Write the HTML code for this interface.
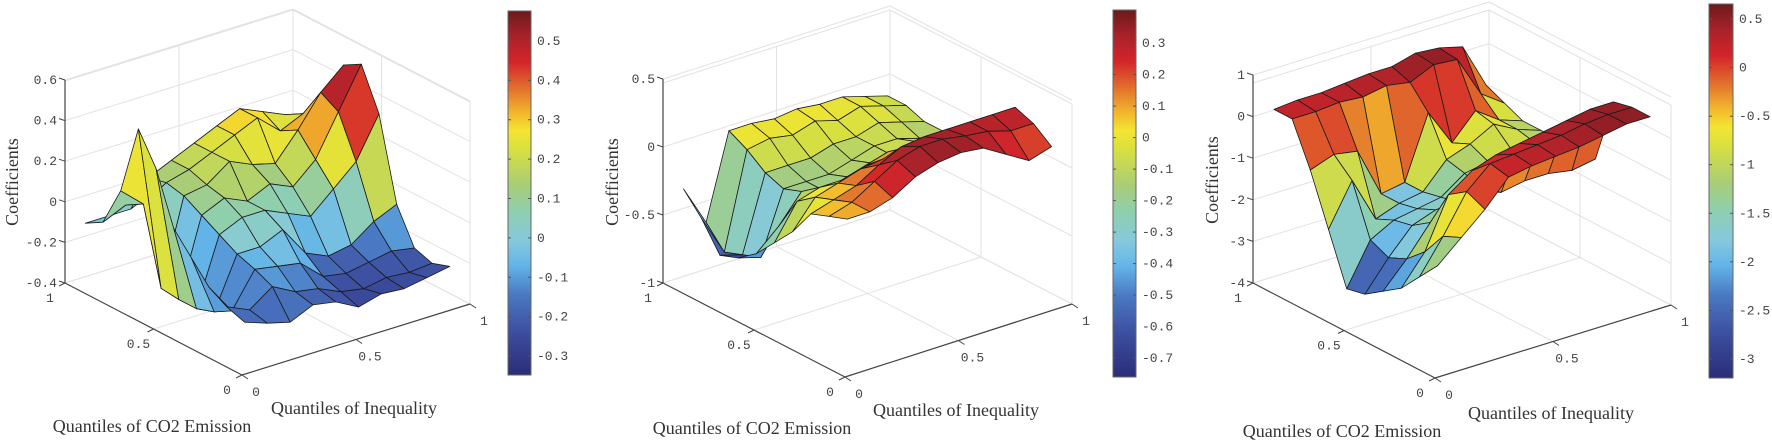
<!DOCTYPE html>
<html><head><meta charset="utf-8">
<style>
html,body{margin:0;padding:0;background:#fff;}
svg{display:block;}
.tk{font-family:"Liberation Mono",monospace;font-size:13px;fill:#444;}
.ttl{font-family:"Liberation Serif",serif;font-size:18px;fill:#333;}
</style></head>
<body>
<svg id="fig" width="1772" height="445" viewBox="0 0 1772 445" xmlns="http://www.w3.org/2000/svg">
<defs id="defs"></defs>
</svg>
<script>
// ---- data ----
const quantiles = [0.05,0.15,0.25,0.35,0.45,0.55,0.65,0.75,0.85,0.95];
const axisTicks = [0, 0.5, 1];
const axisTickLabels = ['0','0.5','1'];
// rows: CO2 quantile (front -> back), cols: inequality quantile
const coef1 = [
 [-0.18,-0.22,-0.25,-0.20,-0.22,-0.28,-0.25,-0.26,-0.24,-0.22],
 [-0.15,-0.20,-0.12,-0.18,-0.20,-0.25,-0.27,-0.25,-0.26,-0.25],
 [-0.10,-0.25,-0.08,-0.10,-0.12,-0.22,-0.24,-0.22,-0.20,-0.22],
 [ 0.00,-0.30,-0.05,-0.05, 0.00,-0.15,-0.20,-0.18,-0.10,-0.05],
 [ 0.10,-0.33, 0.00, 0.05, 0.05, 0.00,-0.05, 0.05, 0.15, 0.35],
 [ 0.35,-0.33, 0.05, 0.10, 0.05, 0.10, 0.05, 0.15, 0.35, 0.55],
 [ 0.50,-0.32, 0.10, 0.12, 0.20, 0.15, 0.12, 0.25, 0.40, 0.50],
 [ 0.15, 0.05, 0.12, 0.15, 0.20, 0.25, 0.30, 0.20, 0.25, 0.20],
 [-0.05, 0.00, 0.10, 0.15, 0.20, 0.25, 0.30, 0.25, 0.20, 0.10],
 [-0.10,-0.10,-0.10,-0.05, 0.00, 0.05, 0.10, 0.15, 0.10, 0.00]
];
const coef2 = [
 [ 0.10, 0.10, 0.15, 0.25, 0.30, 0.32, 0.30, 0.20, 0.10, 0.15],
 [ 0.05, 0.10, 0.20, 0.30, 0.35, 0.35, 0.32, 0.30, 0.25, 0.25],
 [ 0.00, 0.05, 0.10, 0.20, 0.28, 0.30, 0.30, 0.30, 0.30, 0.30],
 [-0.20, 0.00, 0.05, 0.10, 0.12, 0.15, 0.12, 0.10, 0.05, 0.00],
 [-0.35,-0.10,-0.05,-0.05, 0.00, 0.05, 0.00,-0.05,-0.10,-0.10],
 [-0.50,-0.35,-0.15,-0.20,-0.15,-0.10,-0.10,-0.05,-0.10,-0.15],
 [-0.60,-0.65,-0.20,-0.20,-0.20,-0.15,-0.10,-0.10,-0.15,-0.15],
 [-0.65,-0.70,-0.15,-0.15,-0.15,-0.10,-0.10,-0.05,-0.10,-0.15],
 [-0.45,-0.75,-0.05,-0.02,-0.05, 0.00,-0.05, 0.00,-0.05,-0.10],
 [-0.30,-0.60, 0.02, 0.02, 0.00, 0.02, 0.00, 0.00,-0.05,-0.10]
];
const coef3 = [
 [-1.5,-1.0,-0.5, 0.1, 0.2, 0.25,0.3, 0.4, 0.5, 0.5],
 [-2.0,-1.2,-0.3, 0.2, 0.25,0.3, 0.35,0.45,0.5, 0.5],
 [-2.5,-1.8,-0.6,-0.2, 0.0, 0.1, 0.2, 0.3, 0.4, 0.4],
 [-2.8,-2.2,-1.5,-1.2,-1.0,-1.3,-1.2,-1.2,-1.3,-1.2],
 [-3.1,-2.4,-1.8,-1.6,-1.6,-1.5,-1.5,-1.4,-1.4,-1.4],
 [-3.2,-2.2,-1.9,-1.8,-1.7,-1.3,-1.2,-1.1,-1.1,-1.2],
 [-2.0,-1.0,-2.1,-1.9,-1.8,-1.2,-1.0,-0.7,-1.0,-1.2],
 [-0.8,-0.6,-0.7,-1.9,-1.8,-0.3,-1.2,-0.6,-1.0,-1.2],
 [ 0.2, 0.2, 0.25,0.2, 0.3, 0.2, 0.45,0.4,-0.6,-1.0],
 [ 0.2, 0.25,0.25,0.3, 0.35,0.35,0.5, 0.45,0.3,-0.8]
];
const zTicks1 = [-0.4,-0.2,0,0.2,0.4,0.6];
const zTickLabels1 = ['-0.4','-0.2','0','0.2','0.4','0.6'];
const zTicks2 = [-1,-0.5,0,0.5];
const zTickLabels2 = ['-1','-0.5','0','0.5'];
const zTicks3 = [-4,-3,-2,-1,0,1];
const zTickLabels3 = ['-4','-3','-2','-1','0','1'];
const cbTicks1 = [-0.3,-0.2,-0.1,0,0.1,0.2,0.3,0.4,0.5];
const cbTickLabels1 = ['-0.3','-0.2','-0.1','0','0.1','0.2','0.3','0.4','0.5'];
const cbTicks2 = [-0.7,-0.6,-0.5,-0.4,-0.3,-0.2,-0.1,0,0.1,0.2,0.3];
const cbTickLabels2 = ['-0.7','-0.6','-0.5','-0.4','-0.3','-0.2','-0.1','0','0.1','0.2','0.3'];
const cbTicks3 = [-3,-2.5,-2,-1.5,-1,-0.5,0,0.5];
const cbTickLabels3 = ['-3','-2.5','-2','-1.5','-1','-0.5','0','0.5'];
const cbRange1 = [-0.348, 0.576];
const cbRange2 = [-0.76, 0.405];
const cbRange3 = [-3.196, 0.655];

// ---- colormap ----
const cmap = [[0,'#2a2d78'],[0.12,'#3d4fa0'],[0.22,'#4a78c2'],[0.30,'#62b4e8'],[0.37,'#86c9dc'],
 [0.45,'#8fcfae'],[0.52,'#a8cd78'],[0.62,'#d8e040'],[0.67,'#f4e531'],[0.72,'#f2b72e'],
 [0.78,'#e3782c'],[0.86,'#d3252a'],[0.93,'#a8222a'],[1,'#6b1a1c']];
function hex(h){return [1,3,5].map(i=>parseInt(h.substr(i,2),16));}
function colorAt(t){
  t=Math.max(0,Math.min(1,t));
  for(let i=1;i<cmap.length;i++){
    if(t<=cmap[i][0]){
      const a=cmap[i-1],b=cmap[i],f=(t-a[0])/(b[0]-a[0]);
      const ca=hex(a[1]),cb=hex(b[1]);
      return 'rgb('+ca.map((c,k)=>Math.round(c+(cb[k]-c)*f)).join(',')+')';
    }
  }
  return cmap[cmap.length-1][1];
}

const NS='http://www.w3.org/2000/svg';
const svg=document.getElementById('fig');
const defs=document.getElementById('defs');
function mk(tag,attrs,parent){const e=document.createElementNS(NS,tag);for(const k in attrs)e.setAttribute(k,attrs[k]);(parent||svg).appendChild(e);return e;}

const grad=mk('linearGradient',{id:'cbgrad',x1:0,y1:1,x2:0,y2:0},defs);
cmap.forEach(s=>mk('stop',{offset:s[0],'stop-color':s[1]},grad));

const panels=[
 {O:[242,375],L:[65,283],R:[470,304],zmin:-0.4,zmax:0.6,ppu:203,data:coef1,zt:zTicks1,ztl:zTickLabels1,
  cb:{x:508,w:23,y0:11,y1:375},cbr:cbRange1,cbt:cbTicks1,cbtl:cbTickLabels1,
  coefPos:[12,182],ineqPos:[354,414],co2Pos:[152,432]},
 {O:[845,377],L:[663,283],R:[1072,304],zmin:-1,zmax:0.5,ppu:136,data:coef2,zt:zTicks2,ztl:zTickLabels2,
  cb:{x:1113,w:23,y0:10,y1:377},cbr:cbRange2,cbt:cbTicks2,cbtl:cbTickLabels2,
  coefPos:[612,182],ineqPos:[956,416],co2Pos:[752,434]},
 {O:[1435,378],L:[1253,283],R:[1671,305],zmin:-4,zmax:1,ppu:41.6,data:coef3,zt:zTicks3,ztl:zTickLabels3,
  cb:{x:1709,w:24,y0:4,y1:378},cbr:cbRange3,cbt:cbTicks3,cbtl:cbTickLabels3,
  coefPos:[1212,180],ineqPos:[1551,419],co2Pos:[1342,437]}
];

panels.forEach((p,pi)=>{
  const g=mk('g',{});
  
  
  const U=[p.R[0]-p.O[0],p.R[1]-p.O[1]], V=[p.L[0]-p.O[0],p.L[1]-p.O[1]];
  function P(u,v,z){return [p.O[0]+u*U[0]+v*V[0], p.O[1]+u*U[1]+v*V[1]-(z-p.zmin)*p.ppu];}
  function line(a,b,stroke,w,parent,name){const l=mk('line',{x1:a[0].toFixed(1),y1:a[1].toFixed(1),x2:b[0].toFixed(1),y2:b[1].toFixed(1),stroke:stroke,'stroke-width':w},parent);return l;}
  const gridC='#e2e2e2';
  const zTopBox=p.zmax+((P(1,1,p.zmax)[1])-10)/p.ppu;
  const gg=mk('g',{},g);
  
  
  p.zt.forEach(z=>{
    line(P(0,1,z),P(1,1,z),gridC,1,gg,'grid-line');
    line(P(1,1,z),P(1,0,z),gridC,1,gg,'grid-line');
  });
  [0.5].forEach(t=>{
    line(P(t,1,p.zmin),P(t,1,zTopBox),gridC,1,gg,'grid-line');
    line(P(1,t,p.zmin),P(1,t,zTopBox),gridC,1,gg,'grid-line');
    line(P(t,0,p.zmin),P(t,1,p.zmin),gridC,1,gg,'grid-line');
    line(P(0,t,p.zmin),P(1,t,p.zmin),gridC,1,gg,'grid-line');
  });
  line(P(1,1,p.zmin),P(1,1,zTopBox),gridC,1,gg,'grid-line');
  line(P(1,0,p.zmin),P(1,0,zTopBox),gridC,1,gg,'grid-line');
  line(P(0,1,p.zmin),P(1,1,p.zmin),gridC,1,gg,'grid-line');
  line(P(1,1,p.zmin),P(1,0,p.zmin),gridC,1,gg,'grid-line');
  line(P(0,1,zTopBox),P(1,1,zTopBox),gridC,1,gg,'grid-line');
  line(P(1,1,zTopBox),P(1,0,zTopBox),gridC,1,gg,'grid-line');

  const ax='#444';
  line(p.O,p.L,ax,1.2,g,'co2-axis');
  line(p.O,p.R,ax,1.2,g,'inequality-axis');
  line(P(0,1,p.zmin),P(0,1,p.zmax),ax,1.2,g,'z-axis');
  p.zt.forEach((z,i)=>{
    const a=P(0,1,z);
    line(a,[a[0]-6,a[1]-2],ax,1,g,'z-tick');
    const t=mk('text',{x:(a[0]-8).toFixed(1),y:(a[1]+4).toFixed(1),'text-anchor':'end',class:'tk'},g);
    
    
    t.textContent=p.ztl[i];
  });
  axisTicks.forEach((s,i)=>{
    const a=P(0,s,p.zmin);
    line(a,[a[0]-6,a[1]+3],ax,1,g,'co2-tick');
    const t=mk('text',{x:(a[0]-15).toFixed(1),y:(a[1]+19).toFixed(1),'text-anchor':'middle',class:'tk'},g);
    
    
    t.textContent=axisTickLabels[i];
    const b=P(s,0,p.zmin);
    line(b,[b[0]+6,b[1]+4],ax,1,g,'inequality-tick');
    const t2=mk('text',{x:(b[0]+14).toFixed(1),y:(b[1]+21).toFixed(1),'text-anchor':'middle',class:'tk'},g);
    
    
    t2.textContent=axisTickLabels[i];
  });

  const sg=mk('g',{},g);
  
  
  const quads=[];
  const n=quantiles.length;
  for(let i=0;i<n-1;i++)for(let j=0;j<n-1;j++){
    const pts=[[j,i],[j+1,i],[j+1,i+1],[j,i+1]];
    const zs=pts.map(q=>p.data[q[1]][q[0]]);
    const uc=(quantiles[j]+quantiles[j+1])/2, vc=(quantiles[i]+quantiles[i+1])/2;
    quads.push({pts,zs,depth:-U[1]*uc - V[1]*vc});
  }
  quads.sort((a,b)=>b.depth-a.depth);
  quads.forEach(q=>{
    const scr=q.pts.map((c,k)=>P(quantiles[c[0]],quantiles[c[1]],q.zs[k]));
    const zm=(q.zs.reduce((s,z)=>s+z,0)/4)*0.6+Math.max(...q.zs)*0.4;
    const t=(zm-p.cbr[0])/(p.cbr[1]-p.cbr[0]);
    const poly=mk('polygon',{points:scr.map(s=>s[0].toFixed(1)+','+s[1].toFixed(1)).join(' '),fill:colorAt(t),stroke:'#1a1a1a','stroke-width':0.8,'stroke-linejoin':'round'},sg);
    
    
  });

  const ct=mk('text',{x:p.coefPos[0],y:p.coefPos[1],'text-anchor':'middle',class:'ttl',transform:'rotate(-90 '+p.coefPos[0]+' '+p.coefPos[1]+')',dy:6},g);
  
  
  ct.textContent='Coefficients';
  const it=mk('text',{x:p.ineqPos[0],y:p.ineqPos[1],'text-anchor':'middle',class:'ttl'},g);
  
  
  it.textContent='Quantiles of Inequality';
  const co=mk('text',{x:p.co2Pos[0],y:p.co2Pos[1],'text-anchor':'middle',class:'ttl'},g);
  
  
  co.textContent='Quantiles of CO2 Emission';

  const cg=mk('g',{},g);
  
  
  const r=mk('rect',{x:p.cb.x,y:p.cb.y0,width:p.cb.w,height:p.cb.y1-p.cb.y0,fill:'url(#cbgrad)',stroke:'#666','stroke-width':1},cg);
  
  
  const cy=v=>p.cb.y1-(v-p.cbr[0])/(p.cbr[1]-p.cbr[0])*(p.cb.y1-p.cb.y0);
  p.cbt.forEach((v,i)=>{
    const y=cy(v);
    line([p.cb.x,y],[p.cb.x+3,y],'#555',1,cg,'colorbar-tick');
    line([p.cb.x+p.cb.w-3,y],[p.cb.x+p.cb.w,y],'#555',1,cg,'colorbar-tick');
    const t=mk('text',{x:p.cb.x+p.cb.w+6,y:(y+4).toFixed(1),class:'tk'},cg);
    
    
    t.textContent=p.cbtl[i];
  });
});
</script>
</body></html>
